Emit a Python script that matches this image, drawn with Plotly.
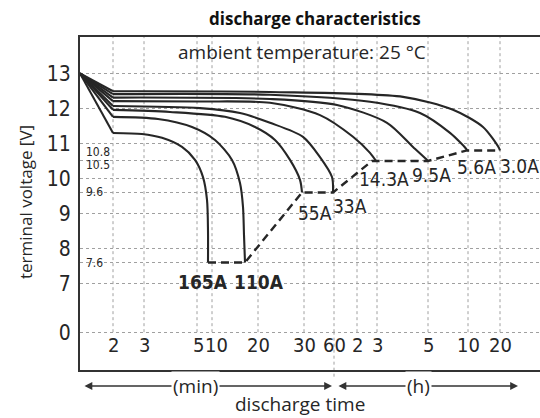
import plotly.graph_objects as go

# ---------------- data ----------------
# x axis uses a hand-drawn (piecewise) time scale; positions in axis units
time_tick_pos = [33, 64, 117, 132, 178, 224, 254, 277, 297, 348, 388, 420]
time_tick_labels = ["2", "3", "5", "10", "20", "30", "60", "2", "3", "5", "10", "20"]

# y axis: broken voltage axis, "0" is drawn at a compressed position
ZERO_POS = 5.61
volt_ticks = [13, 12, 11, 10.5, 10, 9.6, 9, 8, 7.6, 7, ZERO_POS]
volt_tick_text = ["13", "12", "11", "", "10", "", "9", "8", "", "7", "0"]
cutoff_labels = ["10.8", "10.5", "9.6", "7.6"]
cutoff_label_y = [10.77, 10.39, 9.6, 7.6]

START_X, START_V = 0, 13.0

currents = ["165A", "110A", "55A", "33A", "14.3A", "9.5A", "5.6A", "3.0A"]

curve_x = {
    "165A": [33, 62, 82, 102, 115, 123, 127, 128, 128],
    "110A": [33, 78, 112, 135, 152, 160, 163, 164, 165],
    "55A": [33, 90, 145, 175, 195, 210, 220, 222],
    "33A": [33, 120, 160, 190, 223, 240, 252, 253],
    "14.3A": [33, 120, 190, 240, 273, 290, 296],
    "9.5A": [33, 190, 257, 307, 333, 347, 348],
    "5.6A": [33, 190, 290, 340, 370, 386, 387],
    "3.0A": [33, 190, 323, 373, 403, 419, 420],
}
curve_v = {
    "165A": [11.30, 11.27, 11.16, 10.90, 10.53, 10.04, 9.39, 8.5, 7.6],
    "110A": [11.76, 11.70, 11.47, 11.10, 10.53, 9.87, 9.19, 8.39, 7.6],
    "55A": [11.96, 11.90, 11.76, 11.47, 11.10, 10.53, 9.96, 9.6],
    "33A": [12.07, 12.01, 11.87, 11.59, 11.19, 10.61, 10.04, 9.6],
    "14.3A": [12.21, 12.20, 12.16, 11.81, 11.19, 10.73, 10.5],
    "9.5A": [12.31, 12.27, 12.10, 11.59, 10.90, 10.53, 10.5],
    "5.6A": [12.41, 12.39, 12.19, 11.87, 11.30, 10.85, 10.8],
    "3.0A": [12.49, 12.47, 12.33, 11.96, 11.47, 10.87, 10.8],
}

# end-of-discharge (dashed) line
cutoff_x = [128, 165, 222, 253, 292, 348, 387, 420]
cutoff_v = [7.6, 7.6, 9.6, 9.6, 10.5, 10.5, 10.8, 10.8]

# current labels
label_x = [123, 179, 235, 270, 304, 351, 396, 439]
label_v = [7.04, 7.04, 9.01, 9.21, 9.99, 10.10, 10.33, 10.36]
label_bold = [True, True, False, False, False, False, False, False]

X_RANGE = [0, 460]
Y_RANGE = [4.53, 14.04]

INK = "#262626"
GRID = "#a0a0a0"
NUM_FONT = "DejaVu Sans Condensed, Liberation Sans Narrow, sans-serif"
TXT_FONT = "Open Sans, sans-serif"


def numfont(size, weight="normal"):
    return dict(family=NUM_FONT, size=size, color=INK, weight=weight)


fig = go.Figure()

# initial straight drop segments
sx, sy = [], []
for c in currents:
    sx += [START_X, curve_x[c][0], None]
    sy += [START_V, curve_v[c][0], None]
fig.add_trace(go.Scatter(x=sx, y=sy, mode="lines", line=dict(color=INK, width=2.1),
                         hoverinfo="skip", showlegend=False))

for c in currents:
    fig.add_trace(go.Scatter(x=curve_x[c], y=curve_v[c], mode="lines",
                             line=dict(color=INK, width=2.1, shape="spline", smoothing=0.8),
                             name=c, hoverinfo="skip", showlegend=False))

fig.add_trace(go.Scatter(x=cutoff_x, y=cutoff_v, mode="lines",
                         line=dict(color=INK, width=2.4, dash="8px,5px"),
                         hoverinfo="skip", showlegend=False))

shapes = []
# vertical dotted grid lines (stop at the 0 line)
for p in time_tick_pos:
    shapes.append(dict(type="line", xref="x", yref="y", x0=p, x1=p, y0=ZERO_POS, y1=Y_RANGE[1],
                       line=dict(color=GRID, width=1, dash="dot"), layer="below"))
# the 60-min line continues a little below the frame
shapes.append(dict(type="line", xref="x", yref="paper", x0=time_tick_pos[6], x1=time_tick_pos[6],
                   y0=-0.02, y1=0.12, line=dict(color=GRID, width=1, dash="dot"), layer="below"))

annotations = []
for i, (p, t) in enumerate(zip(time_tick_pos, time_tick_labels)):
    shift = {2: 1, 3: 4}.get(i, 0)   # "5" and "10" sit tightly together
    annotations.append(dict(x=p, y=ZERO_POS, xref="x", yref="y", text=t, showarrow=False,
                            xanchor="center", yanchor="top", yshift=1, xshift=shift,
                            font=numfont(20)))
for t, v in zip(cutoff_labels, cutoff_label_y):
    annotations.append(dict(x=0, y=v, xref="x", yref="y", text=t, showarrow=False,
                            xanchor="left", yanchor="middle", xshift=4, font=numfont(12)))
for t, x, v, b in zip(currents, label_x, label_v, label_bold):
    annotations.append(dict(x=x, y=v, xref="x", yref="y", text=t, showarrow=False,
                            xanchor="center", yanchor="middle",
                            font=numfont(19, "bold" if b else "normal")))

annotations.append(dict(x=0.511, y=1.057, xref="paper", yref="paper", showarrow=False,
                        xanchor="center", yanchor="middle",
                        text="<b>discharge characteristics</b>",
                        font=dict(family=TXT_FONT, size=17, color="#111")))
annotations.append(dict(x=222, y=13.61, xref="x", yref="y", showarrow=False,
                        xanchor="center", yanchor="middle",
                        text="ambient temperature: 25 °C",
                        font=dict(family=TXT_FONT, size=19, color=INK)))
annotations.append(dict(x=-0.117, y=0.505, xref="paper", yref="paper", showarrow=False,
                        xanchor="center", yanchor="middle",
                        text="terminal voltage [V]", textangle=-90,
                        font=dict(family=TXT_FONT, size=17, color=INK)))
annotations.append(dict(x=0.478, y=-0.102, xref="paper", yref="paper", showarrow=False,
                        xanchor="center", yanchor="middle",
                        text="discharge time",
                        font=dict(family=TXT_FONT, size=19, color=INK)))

# time range arrows
arrow_y = -0.048
for a, b in [(3, 252), (257, 438)]:
    annotations.append(dict(x=b, y=arrow_y, xref="x", yref="paper", ax=a, ay=0,
                            axref="x", ayref="pixel", text="", showarrow=True,
                            arrowside="end+start", arrowhead=2, arrowsize=1.2,
                            arrowwidth=1.3, arrowcolor="#333"))
annotations.append(dict(x=115, y=arrow_y, xref="x", yref="paper", text="(min)", showarrow=False,
                        xanchor="center", yanchor="middle",
                        bgcolor="white", font=dict(family=TXT_FONT, size=19, color=INK)))
annotations.append(dict(x=338, y=arrow_y, xref="x", yref="paper", text="(h)", showarrow=False,
                        xanchor="center", yanchor="middle",
                        bgcolor="white", font=dict(family=TXT_FONT, size=19, color=INK)))

fig.update_layout(
    width=540, height=418,
    margin=dict(l=80, r=0, t=37, b=48),
    paper_bgcolor="white", plot_bgcolor="white",
    shapes=shapes, annotations=annotations,
    xaxis=dict(range=X_RANGE, showgrid=False, zeroline=False, showticklabels=False,
               showline=True, mirror=True, linecolor="#333", linewidth=2, ticks=""),
    yaxis=dict(range=Y_RANGE, tickvals=volt_ticks, ticktext=volt_tick_text,
               showgrid=True, gridcolor=GRID, griddash="dot", gridwidth=1, zeroline=False,
               showline=True, linecolor="#333", linewidth=2,
               ticks="outside", ticklen=3, tickcolor="white",
               tickfont=numfont(21)),
)

fig.write_html("out.html", config={"displayModeBar": False},
               post_script="document.body.style.margin='0';document.body.style.padding='0';")
